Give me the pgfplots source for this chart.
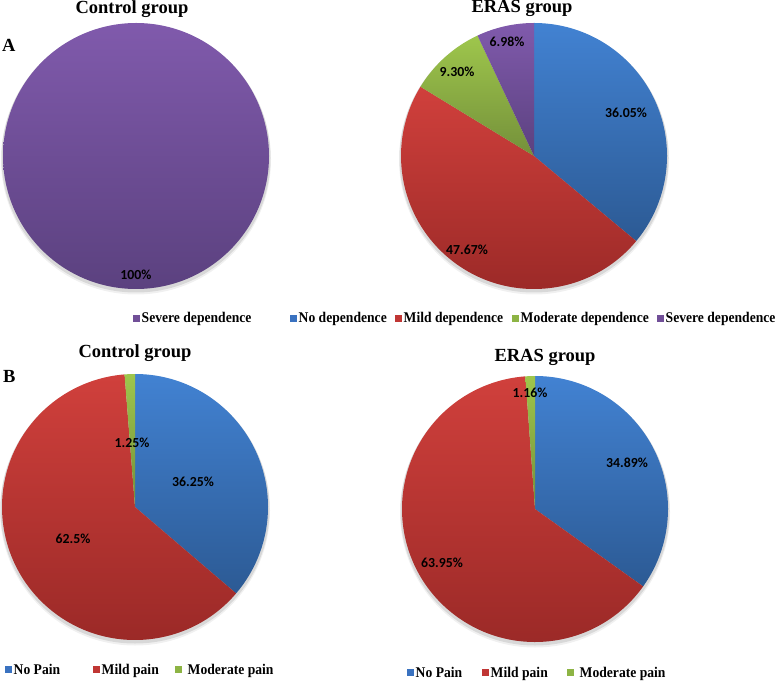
\documentclass[border=0pt]{standalone}
\usepackage{pgfplots}
\usepackage{pgfplotstable}
\pgfplotsset{compat=1.18}
\usepackage{fontspec}
\setmainfont{Liberation Serif}
\newfontfamily\calib{Carlito}
\newfontfamily\legfam[FakeStretch=0.92]{Liberation Serif}

\definecolor{bluT}{HTML}{4282D2}
\definecolor{bluB}{HTML}{2C5A94}
\definecolor{redT}{HTML}{D0403C}
\definecolor{redB}{HTML}{982826}
\definecolor{grnT}{HTML}{9EC64C}
\definecolor{grnB}{HTML}{74903A}
\definecolor{purT}{HTML}{805AAC}
\definecolor{purB}{HTML}{5B417F}
\definecolor{bluL}{HTML}{3A72C0}
\definecolor{redL}{HTML}{C03634}
\definecolor{grnL}{HTML}{8DB444}
\definecolor{purL}{HTML}{714F98}

% pie data: value (percent), gradient colours, label offset from centre (px)
\pgfplotstableread{
value top bot lx ly
100 purT purB 0 -119
}\pieA
\pgfplotstableread{
value top bot lx ly
36.05 bluT bluB 92 43
47.67 redT redB -67 -94
9.30 grnT grnB -77 84
6.98 purT purB -27 114
}\pieB
\pgfplotstableread{
value top bot lx ly
36.25 bluT bluB 58 25
62.5 redT redB -62 -32
1.25 grnT grnB -3 64
}\pieC
\pgfplotstableread{
value top bot lx ly
34.89 bluT bluB 92 46
63.95 redT redB -93 -54
1.16 grnT grnB -5 116
}\pieD

\newcommand\labfont{\calib\bfseries\fontsize{13.8}{15}\selectfont}
\newcommand\legfont{\legfam\bfseries\fontsize{14.8}{16}\selectfont}
\newcommand\titfont{\bfseries\fontsize{18.5}{20}\selectfont}

\newcommand\drawpie[1]{%
  \pgfplotsextra{%
    \fill[black, opacity=0.10] (axis cs:0,-2) circle[radius=134.5pt];
    \fill[black, opacity=0.06] (axis cs:0,-3.5) circle[radius=135pt];
    \pgfplotstablegetrowsof{#1}%
    \pgfmathtruncatemacro\N{\pgfplotsretval-1}%
    \xdef\cumangle{90}%
    \foreach \i in {0,...,\N}{%
      \pgfplotstablegetelem{\i}{value}\of{#1}\let\v\pgfplotsretval
      \pgfplotstablegetelem{\i}{top}\of{#1}\let\ct\pgfplotsretval
      \pgfplotstablegetelem{\i}{bot}\of{#1}\let\cb\pgfplotsretval
      \pgfmathsetmacro\aend{\cumangle-3.6*\v}%
      \shade[top color=\ct, bottom color=\cb]
        (axis cs:0,0) -- ++(\cumangle:133pt)
        arc[start angle=\cumangle, end angle=\aend, radius=133pt] -- cycle;
      \xdef\cumangle{\aend}%
    }%
    \foreach \i in {0,...,\N}{%
      \pgfplotstablegetelem{\i}{value}\of{#1}\let\v\pgfplotsretval
      \pgfplotstablegetelem{\i}{lx}\of{#1}\let\lx\pgfplotsretval
      \pgfplotstablegetelem{\i}{ly}\of{#1}\let\ly\pgfplotsretval
      \node[font=\labfont, text=black, inner sep=0pt] at (axis cs:\lx,\ly) {\v\%};
    }%
  }%
}

\newcommand\legitem[4]{% x of square, baseline y, colour, text
  \fill[#3] (#1pt,#2pt+1pt) rectangle ++(7pt,7pt);
  \node[anchor=base west, inner sep=0pt, font=\legfont] at (#1pt+8.5pt,#2pt) {#4};
}

\pgfplotsset{pieax/.style={x=1pt, y=1pt, xmin=-140, xmax=140, ymin=-140, ymax=140,
  hide axis, clip=false, anchor=center}}

\begin{document}
\begin{tikzpicture}
\useasboundingbox (0,0) rectangle (783pt,680pt);

% Panel A, control
\begin{axis}[pieax, at={(136pt,524pt)}]
\drawpie{\pieA}
\end{axis}
% Panel A, ERAS
\begin{axis}[pieax, at={(534pt,524pt)}]
\drawpie{\pieB}
\end{axis}
% Panel B, control
\begin{axis}[pieax, at={(135pt,173pt)}]
\drawpie{\pieC}
\end{axis}
% Panel B, ERAS
\begin{axis}[pieax, at={(535pt,171pt)}]
\drawpie{\pieD}
\end{axis}

% titles and panel letters
\node[anchor=base, inner sep=0pt, font=\titfont] at (132pt,666pt) {Control group};
\node[anchor=base, inner sep=0pt, font=\titfont] at (522pt,667pt) {ERAS group};
\node[anchor=base west, inner sep=0pt, font=\titfont] at (2pt,628pt) {A};
\node[anchor=base, inner sep=0pt, font=\titfont] at (135pt,322pt) {Control group};
\node[anchor=base, inner sep=0pt, font=\titfont] at (545pt,318pt) {ERAS group};
\node[anchor=base west, inner sep=0pt, font=\titfont] at (3pt,297pt) {B};

% legends
\legitem{133}{357}{purL}{Severe dependence}
\legitem{290}{357}{bluL}{No dependence}
\legitem{395}{357}{redL}{Mild dependence}
\legitem{512}{357}{grnL}{Moderate dependence}
\legitem{657}{357}{purL}{Severe dependence}

\legitem{5}{6}{bluL}{No Pain}
\legitem{93}{6}{redL}{Mild pain}
\legitem{175}{6}{grnL}{\hspace{4pt}Moderate pain}

\legitem{407}{3}{bluL}{No Pain}
\legitem{482}{3}{redL}{Mild pain}
\legitem{567}{3}{grnL}{\hspace{4pt}Moderate pain}
\end{tikzpicture}
\end{document}
